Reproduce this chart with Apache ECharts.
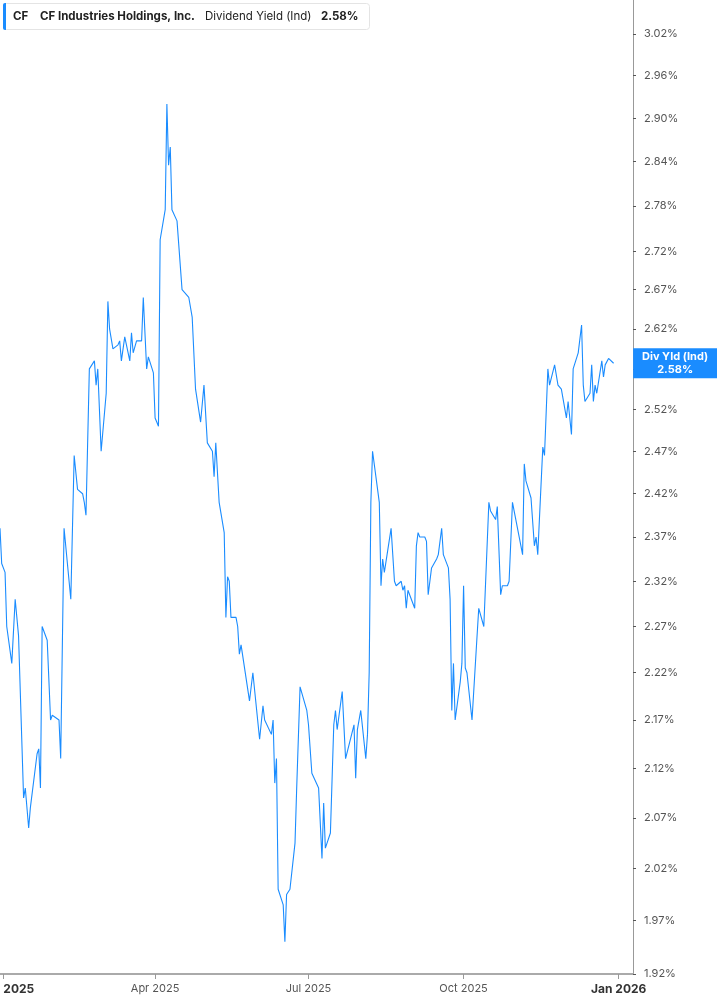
<!DOCTYPE html>
<html lang="en">
<head>
    <meta charset="UTF-8">
    <title>CF Dividend Yield</title>
    <script src="https://cdn.jsdelivr.net/npm/echarts@6/dist/echarts.min.js"></script>
    <style>
        html, body { margin: 0; padding: 0; background: #fff; }
        #chart { width: 717px; height: 1005px; }
    </style>
</head>
<body>
<div id="chart"></div>
<script type="text/javascript">
    // values
    var dates = [
        '2024-12-30', '2024-12-31', '2025-01-02', '2025-01-03', '2025-01-06', '2025-01-08', '2025-01-10',
        '2025-01-13', '2025-01-14', '2025-01-16', '2025-01-17', '2025-01-21', '2025-01-22', '2025-01-23',
        '2025-01-24', '2025-01-27', '2025-01-29', '2025-01-30', '2025-02-03', '2025-02-04', '2025-02-06',
        '2025-02-07', '2025-02-10', '2025-02-12', '2025-02-14', '2025-02-17', '2025-02-18', '2025-02-19',
        '2025-02-21', '2025-02-24', '2025-02-25', '2025-02-26', '2025-02-28', '2025-03-03', '2025-03-04',
        '2025-03-05', '2025-03-07', '2025-03-10', '2025-03-11', '2025-03-12', '2025-03-14', '2025-03-17',
        '2025-03-18', '2025-03-19', '2025-03-21', '2025-03-24', '2025-03-25', '2025-03-27', '2025-03-28',
        '2025-03-31', '2025-04-01', '2025-04-02', '2025-04-03', '2025-04-04', '2025-04-07', '2025-04-08',
        '2025-04-09', '2025-04-10', '2025-04-11', '2025-04-14', '2025-04-17', '2025-04-21', '2025-04-23',
        '2025-04-25', '2025-04-28', '2025-04-30', '2025-05-02', '2025-05-05', '2025-05-06', '2025-05-07',
        '2025-05-09', '2025-05-12', '2025-05-13', '2025-05-14', '2025-05-15', '2025-05-16', '2025-05-19',
        '2025-05-20', '2025-05-21', '2025-05-22', '2025-05-23', '2025-05-27', '2025-05-28', '2025-05-29',
        '2025-06-02', '2025-06-04', '2025-06-05', '2025-06-06', '2025-06-09', '2025-06-10', '2025-06-11',
        '2025-06-12', '2025-06-13', '2025-06-16', '2025-06-17', '2025-06-18', '2025-06-20', '2025-06-23',
        '2025-06-24', '2025-06-26', '2025-06-30', '2025-07-01', '2025-07-03', '2025-07-07', '2025-07-09',
        '2025-07-10', '2025-07-11', '2025-07-14', '2025-07-16', '2025-07-17', '2025-07-18', '2025-07-21',
        '2025-07-23', '2025-07-28', '2025-07-29', '2025-07-30', '2025-07-31', '2025-08-01', '2025-08-04',
        '2025-08-05', '2025-08-06', '2025-08-07', '2025-08-08', '2025-08-12', '2025-08-13', '2025-08-14',
        '2025-08-15', '2025-08-19', '2025-08-21', '2025-08-22', '2025-08-25', '2025-08-26', '2025-08-27',
        '2025-08-28', '2025-08-29', '2025-09-02', '2025-09-03', '2025-09-04', '2025-09-05', '2025-09-08',
        '2025-09-09', '2025-09-10', '2025-09-12', '2025-09-15', '2025-09-16', '2025-09-18', '2025-09-19',
        '2025-09-22', '2025-09-23', '2025-09-24', '2025-09-25', '2025-09-26', '2025-09-29', '2025-09-30',
        '2025-10-01', '2025-10-02', '2025-10-03', '2025-10-06', '2025-10-07', '2025-10-09', '2025-10-10',
        '2025-10-13', '2025-10-16', '2025-10-17', '2025-10-20', '2025-10-21', '2025-10-23', '2025-10-24',
        '2025-10-27', '2025-10-28', '2025-10-30', '2025-11-03', '2025-11-05', '2025-11-06', '2025-11-07',
        '2025-11-10', '2025-11-12', '2025-11-13', '2025-11-14', '2025-11-17', '2025-11-18', '2025-11-20',
        '2025-11-21', '2025-11-24', '2025-11-26', '2025-11-28', '2025-12-01', '2025-12-02', '2025-12-04',
        '2025-12-05', '2025-12-08', '2025-12-10', '2025-12-11', '2025-12-12', '2025-12-15', '2025-12-16',
        '2025-12-17', '2025-12-18', '2025-12-19', '2025-12-22', '2025-12-23', '2025-12-24', '2025-12-26',
        '2025-12-29'
    ];
    var yields = [
        2.38, 2.34, 2.33, 2.27, 2.23, 2.30, 2.26,
        2.09, 2.10, 2.06, 2.08, 2.135, 2.14, 2.10,
        2.27, 2.255, 2.17, 2.175, 2.17, 2.13, 2.38,
        2.38, 2.30, 2.465, 2.425, 2.42, 2.41, 2.395,
        2.57, 2.58, 2.55, 2.57, 2.47, 2.54, 2.655,
        2.62, 2.595, 2.60, 2.605, 2.58, 2.61, 2.58,
        2.615, 2.59, 2.605, 2.605, 2.66, 2.57, 2.585,
        2.565, 2.51, 2.505, 2.50, 2.735, 2.775, 2.92,
        2.835, 2.86, 2.775, 2.76, 2.67, 2.66, 2.635,
        2.545, 2.505, 2.55, 2.48, 2.47, 2.44, 2.48,
        2.41, 2.375, 2.28, 2.325, 2.32, 2.28, 2.28,
        2.27, 2.24, 2.25, 2.25, 2.19, 2.19, 2.22,
        2.15, 2.185, 2.17, 2.17, 2.155, 2.17, 2.105,
        2.13, 2.00, 1.985, 1.95, 1.995, 2.00, 2.045,
        2.10, 2.205, 2.18, 2.165, 2.115, 2.10, 2.03,
        2.085, 2.04, 2.055, 2.165, 2.18, 2.16, 2.20,
        2.13, 2.165, 2.11, 2.16, 2.16, 2.18, 2.13,
        2.155, 2.22, 2.41, 2.47, 2.41, 2.315, 2.345,
        2.33, 2.38, 2.32, 2.315, 2.32, 2.31, 2.315,
        2.29, 2.31, 2.29, 2.36, 2.375, 2.37, 2.37,
        2.365, 2.305, 2.335, 2.345, 2.35, 2.38, 2.35,
        2.335, 2.30, 2.18, 2.23, 2.17, 2.21, 2.23,
        2.315, 2.225, 2.22, 2.17, 2.17, 2.26, 2.29,
        2.27, 2.41, 2.40, 2.39, 2.405, 2.305, 2.315,
        2.315, 2.32, 2.41, 2.37, 2.35, 2.455, 2.435,
        2.415, 2.36, 2.37, 2.35, 2.475, 2.465, 2.57,
        2.55, 2.575, 2.55, 2.545, 2.51, 2.53, 2.49,
        2.57, 2.59, 2.625, 2.55, 2.53, 2.54, 2.575,
        2.53, 2.55, 2.54, 2.58, 2.56, 2.575, 2.583,
        2.577
    ];
    var yTicks = [1.92, 1.97, 2.02, 2.07, 2.12, 2.17, 2.22, 2.27, 2.32, 2.37, 2.42, 2.47,
        2.52, 2.57, 2.62, 2.67, 2.72, 2.78, 2.84, 2.90, 2.96, 3.02];
    var xTicks = ['2025-01-01', '2025-04-01', '2025-07-01', '2025-10-01', '2026-01-01'];
    var xTickLabels = ['2025', 'Apr 2025', 'Jul 2025', 'Oct 2025', 'Jan 2026'];
    var xTickBold = [true, false, false, false, true];
    var xMin = '2024-12-30';
    var xMax = '2026-01-09 12:00';

    var blue = '#1a8cff';
    var lastValue = yields[yields.length - 1];

    function toTime(d) {
        return echarts.time.parse(d).getTime();
    }

    var chartDom = document.getElementById('chart');
    var myChart = echarts.init(chartDom);
    var option;

    var xTickTimes = xTicks.map(toTime);
    var seriesData = dates.map(function (d, i) { return [toTime(d), yields[i]]; });
    var lastPoint = seriesData[seriesData.length - 1];

    option = {
        animation: false,
        textStyle: { fontFamily: 'Inter, Roboto, sans-serif' },
        grid: { left: 0, right: 84, top: 0, bottom: 31 },
        graphic: [
            { type: 'rect', shape: { x: 3.5, y: 3.5, width: 366, height: 26, r: 3 },
              style: { fill: '#fff', stroke: '#e4e4e4', lineWidth: 1 } },
            { type: 'rect', shape: { x: 3, y: 3, width: 3, height: 27, r: [2, 0, 0, 2] },
              style: { fill: blue } },
            { type: 'text', x: 13, y: 17, style: { text: 'CF', font: 'bold 11.5px Inter', fill: '#222', verticalAlign: 'middle' } },
            { type: 'text', x: 40, y: 17, style: { text: 'CF Industries Holdings, Inc.', font: 'bold 11.5px Inter', fill: '#222', verticalAlign: 'middle' } },
            { type: 'text', x: 205, y: 17, style: { text: 'Dividend Yield (Ind)', font: '11.5px Inter', fill: '#222', verticalAlign: 'middle' } },
            { type: 'text', x: 321, y: 17, style: { text: lastValue.toFixed(2) + '%', font: 'bold 11.5px Inter', fill: '#222', verticalAlign: 'middle' } }
        ],
        xAxis: {
            type: 'value',
            min: toTime(xMin),
            max: toTime(xMax),
            axisLine: { show: true, lineStyle: { color: '#aaa', width: 2 } },
            axisTick: { show: true, length: 5, customValues: xTickTimes, lineStyle: { color: '#999' } },
            axisLabel: {
                customValues: xTickTimes,
                alignMinLabel: 'left',
                margin: 9,
                formatter: function (value) {
                    var i = xTickTimes.indexOf(value);
                    if (i < 0) return '';
                    return xTickBold[i] ? '{b|' + xTickLabels[i] + '}' : '{n|' + xTickLabels[i] + '}';
                },
                rich: {
                    b: { fontSize: 12, fontWeight: 'bold', color: '#333' },
                    n: { fontSize: 11, color: '#555' }
                }
            },
            splitLine: { show: false }
        },
        yAxis: {
            type: 'log',
            position: 'right',
            min: 1.92,
            max: 3.07,
            axisLine: { show: true, lineStyle: { color: '#999' } },
            axisTick: { show: true, length: 3, customValues: yTicks, lineStyle: { color: '#555' } },
            axisLabel: {
                customValues: yTicks,
                margin: 11,
                fontSize: 11,
                color: '#555',
                formatter: function (v) { return v.toFixed(2) + '%'; }
            },
            splitLine: { show: false }
        },
        series: [
            {
                name: 'Dividend Yield (Ind)',
                type: 'line',
                showSymbol: false,
                lineStyle: { color: blue, width: 1.1 },
                data: seriesData,
                markPoint: {
                    symbol: 'rect',
                    symbolSize: [84, 30],
                    symbolOffset: [61.5, 0],
                    itemStyle: { color: blue },
                    label: {
                        show: true,
                        position: 'inside',
                        color: '#fff',
                        fontSize: 11,
                        fontWeight: 'bold',
                        lineHeight: 13,
                        formatter: 'Div Yld (Ind)\n' + lastValue.toFixed(2) + '%'
                    },
                    data: [{ coord: lastPoint }]
                }
            }
        ]
    };

    option && myChart.setOption(option);
</script>
</body>
</html>
